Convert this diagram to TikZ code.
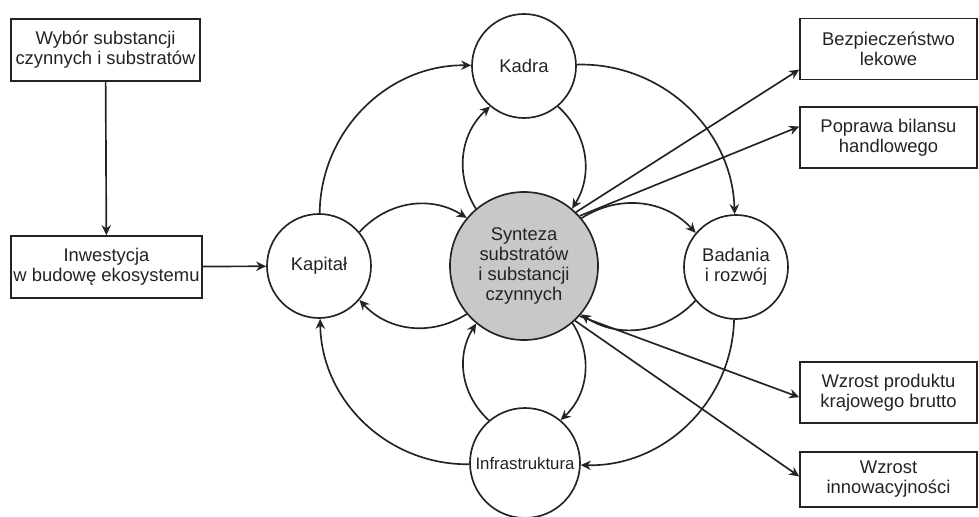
\documentclass[tikz,border=0pt]{standalone}
\usepackage{fontspec}
\setmainfont{Liberation Sans}
\usetikzlibrary{shapes,arrows.meta,positioning}
\definecolor{ink}{RGB}{35,35,35}
\definecolor{synfill}{RGB}{200,200,200}
\tikzset{
    factor/.style ={circle, draw, minimum size=78pt, inner sep=0pt, align=center,
        font=\fontsize{13.8}{14.8}\selectfont},
    outcome/.style = {rectangle, draw, minimum width=132.75pt, minimum height=45.75pt,
        inner sep=0pt, align=center, font=\fontsize{13.8}{15}\selectfont},
    loop/.style={bend left=40},
    ring/.style={bend left=45}
}

\begin{document}
\begin{tikzpicture}[x=0.75pt,y=-0.75pt,color=ink,line width=1.25pt,
    -{Stealth[length=7.5pt,width=7pt]}]
    \useasboundingbox (0,0) rectangle (979,517);
    % left column
    \node[outcome, minimum width=141.75pt, minimum height=46.5pt] (wybor) at (105.5,50) {Wybór substancji\\czynnych i substratów};
    \node[outcome, minimum width=143.25pt, minimum height=46.5pt] (inwest) at (106.5,267) {Inwestycja\\w budowę ekosystemu};
    % circles
    \node[factor] (kap) at (319,266) {Kapitał};
    \node[factor] (kad) at (524,66) {Kadra};
    \node[factor, fill=synfill, minimum size=111pt] (syn) at (524,266) {Synteza\\substratów\\i substancji\\czynnych};
    \node[factor] (bad) at (736,267) {Badania\\i rozwój};
    \node[factor, minimum size=82.5pt, font=\fontsize{12.6}{14}\selectfont] (infra) at (525,463) {Infrastruktura};
    % right column
    \node[outcome] (bezp) at (888.5,49) {Bezpieczeństwo\\lekowe};
    \node[outcome] (bilans) at (888.5,137.5) {Poprawa bilansu\\handlowego};
    \node[outcome] (pkb) at (888.5,392.5) {Wzrost produktu\\krajowego brutto};
    \node[outcome, minimum height=41.25pt] (innow) at (888.5,479.5) {Wzrost\\innowacyjności};

    \path (wybor) edge (inwest);
    \path (inwest) edge (kap);

    % outer ring
    \path (kap) edge[ring] (kad);
    \path (kad) edge[ring] (bad);
    \path (bad) edge[ring] (infra);
    \path (infra) edge[ring] (kap);

    % loops with the centre
    \path (kap) edge[loop] (syn);
    \path (syn) edge[loop] (kap);
    \path (syn) edge[loop] (kad);
    \path (kad) edge[loop] (syn);
    \path (syn) edge[loop] (bad);
    \path (bad) edge[loop] (syn);
    \path (infra) edge[loop] (syn);
    \path (syn) edge[loop] (infra);

    % effects
    \path (syn.46) edge (bezp.193);
    \path (syn.42) edge (bilans.173);
    \path (syn.-42) edge (pkb.183);
    \path (syn.-47) edge (innow.178);
\end{tikzpicture}
\end{document}
